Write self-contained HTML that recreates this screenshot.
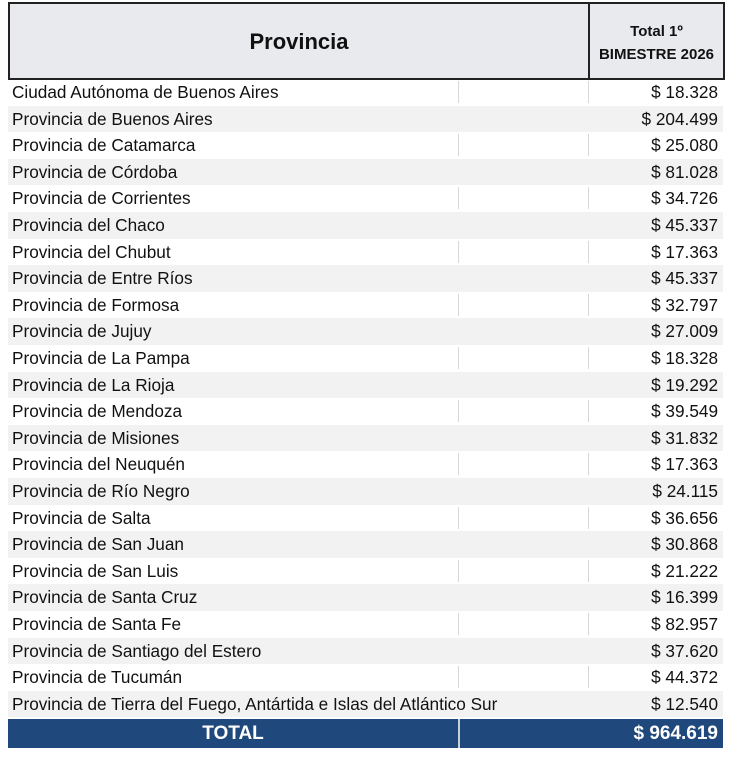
<!DOCTYPE html>
<html><head><meta charset="utf-8"><style>
body{margin:0;background:#fff;width:730px;height:757px;position:relative;font-family:"Liberation Sans",sans-serif;color:#111;}
.hdr{position:absolute;left:8px;top:2px;width:713px;height:74px;background:#e9eaee;border:2px solid #222;}
.hdr .div{position:absolute;left:578px;top:0;width:2px;height:74px;background:#222;}
.h1{position:absolute;left:0;width:578px;top:25px;text-align:center;font-weight:bold;font-size:22px;}
.h2{position:absolute;left:580px;width:133px;top:16px;text-align:center;font-weight:bold;font-size:15px;line-height:23px;}
.row{position:absolute;left:8px;width:715px;height:26.6px;font-size:17.2px;line-height:26px;}
.row.g{background:#f2f2f2;}
.row .n{position:absolute;left:4px;top:0;white-space:nowrap;}
.row .v{position:absolute;right:5px;top:0;}
.row .d1{position:absolute;left:450px;top:2px;width:1px;height:22px;background:#d8d8d8;}
.row .d2{position:absolute;left:580px;top:2px;width:1px;height:22px;background:#d8d8d8;}
.tot{position:absolute;left:8px;top:719px;width:715px;height:29px;background:#1f497d;color:#fff;font-weight:bold;font-size:19px;line-height:29px;}
.tot .a{position:absolute;left:0;width:450px;text-align:center;}
.tot .b{position:absolute;right:5px;}
.tot .s{position:absolute;left:450px;top:0;width:2px;height:29px;background:#c8d0dc;}
</style></head><body>
<div class="hdr"><div class="div"></div><div class="h1">Provincia</div><div class="h2">Total 1º<br>BIMESTRE 2026</div></div>
<div class="row" style="top:79px"><span class="d1"></span><span class="d2"></span><span class="n">Ciudad Autónoma de Buenos Aires</span><span class="v">$ 18.328</span></div>
<div class="row g" style="top:105.6px"><span class="n">Provincia de Buenos Aires</span><span class="v">$ 204.499</span></div>
<div class="row" style="top:132.2px"><span class="d1"></span><span class="d2"></span><span class="n">Provincia de Catamarca</span><span class="v">$ 25.080</span></div>
<div class="row g" style="top:158.8px"><span class="n">Provincia de Córdoba</span><span class="v">$ 81.028</span></div>
<div class="row" style="top:185.4px"><span class="d1"></span><span class="d2"></span><span class="n">Provincia de Corrientes</span><span class="v">$ 34.726</span></div>
<div class="row g" style="top:212px"><span class="n">Provincia del Chaco</span><span class="v">$ 45.337</span></div>
<div class="row" style="top:238.6px"><span class="d1"></span><span class="d2"></span><span class="n">Provincia del Chubut</span><span class="v">$ 17.363</span></div>
<div class="row g" style="top:265.2px"><span class="n">Provincia de Entre Ríos</span><span class="v">$ 45.337</span></div>
<div class="row" style="top:291.8px"><span class="d1"></span><span class="d2"></span><span class="n">Provincia de Formosa</span><span class="v">$ 32.797</span></div>
<div class="row g" style="top:318.4px"><span class="n">Provincia de Jujuy</span><span class="v">$ 27.009</span></div>
<div class="row" style="top:345px"><span class="d1"></span><span class="d2"></span><span class="n">Provincia de La Pampa</span><span class="v">$ 18.328</span></div>
<div class="row g" style="top:371.6px"><span class="n">Provincia de La Rioja</span><span class="v">$ 19.292</span></div>
<div class="row" style="top:398.2px"><span class="d1"></span><span class="d2"></span><span class="n">Provincia de Mendoza</span><span class="v">$ 39.549</span></div>
<div class="row g" style="top:424.8px"><span class="n">Provincia de Misiones</span><span class="v">$ 31.832</span></div>
<div class="row" style="top:451.4px"><span class="d1"></span><span class="d2"></span><span class="n">Provincia del Neuquén</span><span class="v">$ 17.363</span></div>
<div class="row g" style="top:478px"><span class="n">Provincia de Río Negro</span><span class="v">$ 24.115</span></div>
<div class="row" style="top:504.6px"><span class="d1"></span><span class="d2"></span><span class="n">Provincia de Salta</span><span class="v">$ 36.656</span></div>
<div class="row g" style="top:531.2px"><span class="n">Provincia de San Juan</span><span class="v">$ 30.868</span></div>
<div class="row" style="top:557.8px"><span class="d1"></span><span class="d2"></span><span class="n">Provincia de San Luis</span><span class="v">$ 21.222</span></div>
<div class="row g" style="top:584.4px"><span class="n">Provincia de Santa Cruz</span><span class="v">$ 16.399</span></div>
<div class="row" style="top:611px"><span class="d1"></span><span class="d2"></span><span class="n">Provincia de Santa Fe</span><span class="v">$ 82.957</span></div>
<div class="row g" style="top:637.6px"><span class="n">Provincia de Santiago del Estero</span><span class="v">$ 37.620</span></div>
<div class="row" style="top:664.2px"><span class="d1"></span><span class="d2"></span><span class="n">Provincia de Tucumán</span><span class="v">$ 44.372</span></div>
<div class="row g" style="top:690.8px"><span class="n">Provincia de Tierra del Fuego, Antártida e Islas del Atlántico Sur</span><span class="v">$ 12.540</span></div>
<div class="tot"><span class="a">TOTAL</span><span class="s"></span><span class="b">$ 964.619</span></div>
</body></html>
